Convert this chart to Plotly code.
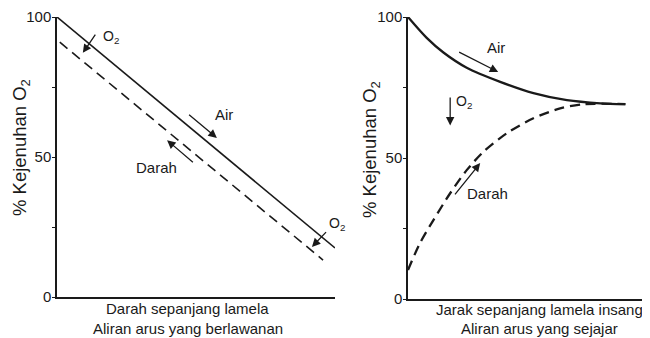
import plotly.graph_objects as go

# left panel: counter-current flow (straight lines)
cc_water_x = [0, 100]
cc_water_y = [100, 17.5]
cc_blood_x = [1, 95.7]
cc_blood_y = [91, 13.2]

# right panel: concurrent flow (curves meeting near 69 %)
co_water_x = [0, 8.6, 16.3, 27, 42.4, 57.7, 73.1, 88.5, 100]
co_water_y = [100, 92.6, 87.4, 82.0, 77.0, 73.0, 70.5, 69.4, 69.1]
co_blood_x = [0, 5.5, 11.7, 19.4, 27, 34.7, 45.5, 57.7, 70, 80.8, 100]
co_blood_y = [10.3, 19.8, 28, 37.5, 45.7, 52.2, 58.8, 64.1, 67.6, 69.1, 69.1]

tick_vals = [0, 25, 50, 75, 100]
tick_text = ["0", "", "50", "", "100"]

W, H = 650, 338
OFF = 8  # page body margin the figure sits in
FONT = "Liberation Sans, Arial, sans-serif"
INK = "#1a1a1a"


def px(x):
    return (x - OFF) / W


def py(y):
    return 1 - (y - OFF) / H


fig = go.Figure()
fig.add_trace(go.Scatter(x=cc_water_x, y=cc_water_y, mode="lines",
                         line=dict(color=INK, width=1.6), xaxis="x", yaxis="y"))
fig.add_trace(go.Scatter(x=cc_blood_x, y=cc_blood_y, mode="lines",
                         line=dict(color=INK, width=1.6, dash="10px,6px"),
                         xaxis="x", yaxis="y"))
fig.add_trace(go.Scatter(x=co_water_x, y=co_water_y, mode="lines",
                         line=dict(color=INK, width=2.3, shape="spline", smoothing=0.8),
                         xaxis="x2", yaxis="y2"))
fig.add_trace(go.Scatter(x=co_blood_x, y=co_blood_y, mode="lines",
                         line=dict(color=INK, width=2.3, dash="10px,6px",
                                   shape="spline", smoothing=0.8),
                         xaxis="x2", yaxis="y2"))

xcommon = dict(showline=True, linecolor=INK, linewidth=1.5, showgrid=False,
               zeroline=False, showticklabels=False, ticks="", automargin=False)
ycommon = dict(showline=True, linecolor=INK, linewidth=1.5, showgrid=False,
               zeroline=False, range=[0, 100], tickvals=tick_vals, ticktext=tick_text,
               ticks="outside", ticklen=3, tickcolor=INK, automargin=False,
               ticklabelstandoff=-2, tickfont=dict(size=15, color=INK))

fig.update_layout(
    width=W, height=H, autosize=False,
    margin=dict(l=0, r=0, t=0, b=0, pad=0, autoexpand=False),
    paper_bgcolor="white", plot_bgcolor="white",
    font=dict(family=FONT, color=INK, size=15),
    showlegend=False,
    xaxis=dict(xcommon, domain=[px(57), px(335)], range=[0, 100], anchor="y"),
    yaxis=dict(ycommon, domain=[py(297), py(17)], anchor="x"),
    xaxis2=dict(xcommon, domain=[px(408), 1.0], range=[0, 115], anchor="y2"),
    yaxis2=dict(ycommon, domain=[py(299), py(17)], anchor="x2"),
)

anns = []


def text(x, y, s, size=15, angle=0, xanchor="center"):
    anns.append(dict(x=px(x), y=py(y), xref="paper", yref="paper", text=s,
                     showarrow=False, textangle=angle, xanchor=xanchor,
                     yanchor="middle", borderpad=0, font=dict(size=size, color=INK)))


def arrow(xr, yr, tail, head):
    anns.append(dict(x=head[0], y=head[1], ax=tail[0], ay=tail[1], xref=xr, yref=yr,
                     axref=xr, ayref=yr, text=" ", showarrow=True, arrowhead=2,
                     arrowsize=1.3, arrowwidth=1.3, arrowcolor=INK,
                     font=dict(size=2)))


# left panel labels
text(21, 148, "% Kejenuhan O<sub>2</sub>", size=18.5, angle=-90)
text(187, 308, "Darah sepanjang lamela")
text(188, 328, "Aliran arus yang berlawanan")
text(102, 37, "O<sub>2</sub>", size=14, xanchor="left")
text(328, 224, "O<sub>2</sub>", size=14, xanchor="left")
text(224, 114, "Air")
text(156, 167, "Darah")
arrow("x", "y", (14.4, 94.6), (9.3, 87.2))
arrow("x", "y", (97.5, 23.9), (91.7, 17.9))
arrow("x", "y", (46.8, 65.7), (57.5, 56.8))
arrow("x", "y", (49.6, 47.5), (39.6, 56.0))

# right panel labels
text(371, 150, "% Kejenuhan O<sub>2</sub>", size=18.5, angle=-90)
text(539, 309, "Jarak sepanjang lamela insang")
text(539, 328, "Aliran arus yang sejajar")
text(496, 48, "Air")
text(455, 102, "O<sub>2</sub>", size=14, xanchor="left")
text(487, 193, "Darah")
arrow("x2", "y2", (22.6, 87.9), (41.5, 80.5))
arrow("x2", "y2", (19.4, 72.3), (19.4, 61.5))
arrow("x2", "y2", (20.7, 36.2), (33.2, 48.2))

fig.update_layout(annotations=anns)
fig.write_html("out.html")
